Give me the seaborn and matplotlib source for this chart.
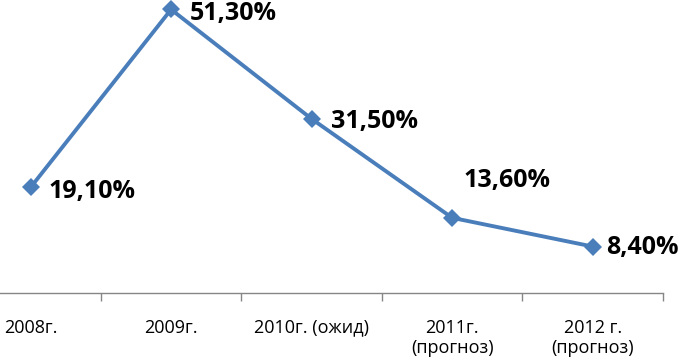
import matplotlib
matplotlib.use("Agg")
import matplotlib.pyplot as plt
import seaborn as sns
import pandas as pd

# ---- data ----
categories = ["2008г.", "2009г.", "2010г. (ожид)", "2011г.\n(прогноз)", "2012 г.\n(прогноз)"]
values = [19.1, 51.3, 31.5, 13.6, 8.4]
value_labels = ["19,10%", "51,30%", "31,50%", "13,60%", "8,40%"]

# label offsets in points (dx, dy of baseline relative to point)
label_offsets = [(13, -7.4), (13.7, -7.4), (14, -6.2), (8, 22), (9.4, -5.7)]

sns.set_theme(style="white")
plt.rcParams["font.family"] = ["Open Sans", "DejaVu Sans"]

fig = plt.figure(figsize=(6.8, 3.61), dpi=100)
fig.patch.set_facecolor("white")
ax = fig.add_axes([-0.0584, 0.1884, 1.0334, 0.842])
ax.set_facecolor("white")

df = pd.DataFrame({"cat": categories, "val": values})
sns.lineplot(data=df, x="cat", y="val", ax=ax, sort=False,
             color="#4A7EBB", linewidth=2.8, marker="D", markersize=9,
             markeredgewidth=0, clip_on=False)

for i, (v, lab) in enumerate(zip(values, value_labels)):
    dx, dy = label_offsets[i]
    ax.annotate(lab, xy=(i, v), xytext=(dx, dy), textcoords="offset points",
                ha="left", va="baseline", fontsize=18, fontweight="bold",
                color="black", family=["Open Sans", "DejaVu Sans"])

ax.set_xlim(-0.5, len(categories) - 0.5)
ax.set_ylim(0, 55)
ax.set_xticks(range(len(categories)))
ax.set_xticklabels(categories, fontsize=13, color="black", linespacing=1.2)
ax.set_xticks([i - 0.5 for i in range(len(categories) + 1)], minor=True)
ax.tick_params(axis="x", which="major", length=0, pad=18.5)
ax.tick_params(axis="x", which="minor", length=5.5, width=1.0, color="#868686", bottom=True)
ax.set_yticks([])
ax.set_xlabel("")
ax.set_ylabel("")
for s in ["left", "top", "right"]:
    ax.spines[s].set_visible(False)
ax.spines["bottom"].set_color("#868686")
ax.spines["bottom"].set_linewidth(1.0)
ax.grid(False)

fig.savefig("out.png", dpi=100, facecolor="white")
